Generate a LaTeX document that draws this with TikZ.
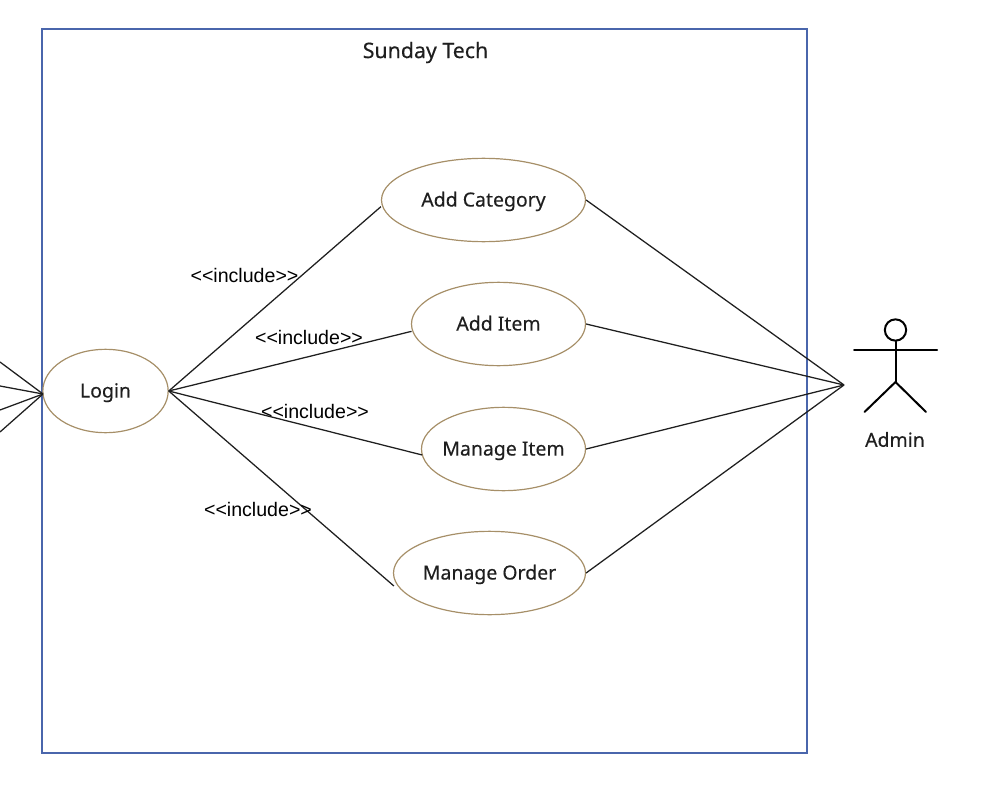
\documentclass[tikz,border=0pt]{standalone}
\usepackage{fontspec}
\setmainfont{Noto Sans}[FakeBold=0.3]
\newfontfamily\incfont{Liberation Sans}
\usetikzlibrary{shapes.geometric}
\definecolor{boxblue}{HTML}{4A66AC}
\definecolor{ucline}{HTML}{A68F68}
\definecolor{inkc}{HTML}{1F1F1F}
\newcommand{\uctext}[1]{\makebox[0pt][c]{#1}}
\tikzset{
  px/.style={x=0.75pt,y=-0.75pt},
  uc/.style={ellipse,draw=ucline,line width=0.9pt,inner sep=0pt,minimum height=62.5pt,text=inkc,text height=12.6pt,text depth=2.8pt,font=\fontsize{14.6pt}{17pt}\selectfont},
  lbl/.style={inner sep=0pt,text=inkc,font=\fontsize{14.6pt}{17pt}\selectfont},
  ttl/.style={inner sep=0pt,text=inkc,font=\fontsize{16pt}{19pt}\selectfont},
  inc/.style={inner sep=0pt,font=\incfont\fontsize{14.7pt}{17pt}\selectfont},
  conn/.style={draw=inkc,line width=0.95pt},
  actor/.style={draw=black,line width=1.5pt,line cap=round}
}
\begin{document}
\begin{tikzpicture}[px]
\useasboundingbox (0,0) rectangle (982,792);
\node[draw=boxblue,line width=2.1pt,inner sep=0pt,minimum width=573.75pt,minimum height=543pt] (sys) at (424.5,391) {};
\node[ttl] (title) at (425.5,52.5) {Sunday Tech};
\node[uc,minimum width=94pt] (login) at (105.5,391) {\uctext{Login}};
\node[uc,minimum width=153pt] (cat) at (483.5,200) {\uctext{Add Category}};
\node[uc,minimum width=130.5pt] (item) at (498.5,324) {\uctext{Add Item}};
\node[uc,minimum width=123pt] (mitem) at (503.5,449) {\uctext{Manage Item}};
\node[uc,minimum width=144pt] (morder) at (489.5,573) {\uctext{Manage Order}};
\coordinate (hand) at (844,385);
\coordinate (off1) at (0,362);
\coordinate (off2) at (0,386);
\coordinate (off3) at (0,410);
\coordinate (off4) at (0,432);
\coordinate (entry) at (43,394);
\draw[conn] (login.east) -- ([yshift=-5pt]cat.west);
\draw[conn] (login.east) -- ([yshift=-5.5pt,xshift=0.5pt]item.west);
\draw[conn] (login.east) -- ([yshift=-4.5pt,xshift=1pt]mitem.west);
\draw[conn] (login.east) -- ([yshift=-9.75pt,xshift=0.75pt]morder.west);
\draw[conn] (cat.east) -- (hand);
\draw[conn] (item.east) -- (hand);
\draw[conn] (mitem.east) -- (hand);
\draw[conn] (morder.east) -- (hand);
\draw[conn] (off1) -- (entry);
\draw[conn] (off2) -- (entry);
\draw[conn] (off3) -- (entry);
\draw[conn] (off4) -- (entry);
\node[inc] (i1) at (244.5,275.5) {<{}<include>{}>};
\node[inc] (i2) at (309,337.5) {<{}<include>{}>};
\node[inc] (i3) at (315,411.5) {<{}<include>{}>};
\node[inc] (i4) at (258,509.5) {<{}<include>{}>};
\node[circle,draw=black,line width=1.5pt,minimum size=16pt,inner sep=0pt] (head) at (895.5,330) {};
\coordinate (hip) at (895.5,382);
\coordinate (armL) at (854,350);
\coordinate (armR) at (937,350);
\coordinate (footL) at (864.5,412);
\coordinate (footR) at (926,412);
\draw[actor] (head.south) -- (hip);
\draw[actor] (armL) -- (armR);
\draw[actor] (footL) -- (hip) -- (footR);
\node[lbl] (admin) at (895,439.5) {Admin};
\end{tikzpicture}
\end{document}
